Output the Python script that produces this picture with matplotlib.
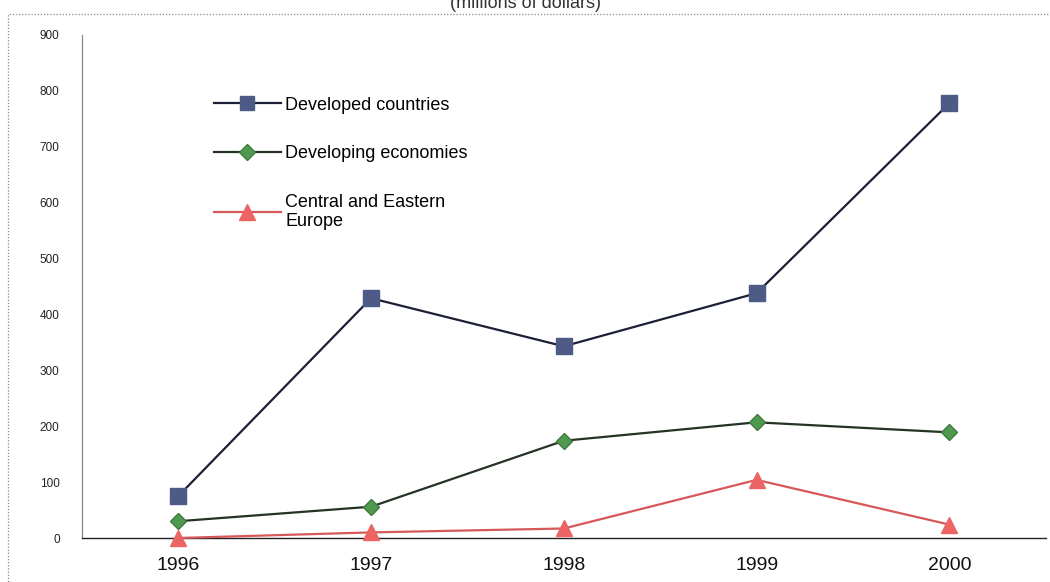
import matplotlib
matplotlib.use("Agg")
import matplotlib.pyplot as plt
from matplotlib.patches import Rectangle

plt.rcParams['font.family'] = ['Liberation Sans', 'DejaVu Sans']

years = ['1996', '1997', '1998', '1999', '2000']
developed = [75, 429, 343, 438, 778]
developing = [30, 56, 174, 207, 189]
cee = [0, 10, 17, 104, 24]

labels = ['Developed countries', 'Developing economies', 'Central and Eastern\nEurope']
title = '(millions of dollars)'

fig = plt.figure(figsize=(10.5, 5.82), dpi=100)
ax = fig.add_axes([0.078, 0.0756, 0.918, 0.8643])

x = list(range(len(years)))
ax.plot(x, developed, color='#1c2036', lw=1.6, marker='s', ms=11,
        mfc='#4d5b86', mec='#4d5b86', label=labels[0], zorder=3, clip_on=False)
ax.plot(x, developing, color='#243324', lw=1.6, marker='D', ms=8.5,
        mfc='#4f9a4f', mec='#3f7a3f', label=labels[1], zorder=3, clip_on=False)
ax.plot(x, cee, color='#d65858', lw=1.6, marker='^', ms=12,
        mfc='#ec6464', mec='#ec6464', label=labels[2], zorder=3, clip_on=False)

ax.set_xlim(-0.5, len(years) - 0.5)
ax.set_ylim(0, 900)
ax.set_yticks(range(0, 901, 100))
ax.set_xticks(x)
ax.set_xticklabels(years, fontsize=14)
ax.tick_params(axis='y', labelsize=8.5, length=0, pad=16, colors='#222222')
ax.tick_params(axis='x', length=0, pad=14, colors='#111111')

for s in ['top', 'right']:
    ax.spines[s].set_visible(False)
ax.spines['left'].set_color('#888888')
ax.spines['left'].set_linewidth(0.9)
ax.spines['bottom'].set_color('#222222')
ax.spines['bottom'].set_linewidth(1.0)

leg = ax.legend(loc='upper left', bbox_to_anchor=(0.12, 0.91), frameon=False,
                fontsize=13, handlelength=3.7, handletextpad=0.27,
                labelspacing=1.75, markerscale=0.95)

# outer dotted frame of the scanned page
fig.patches.append(Rectangle((8 / 1050, -0.01), 1.2, (582 - 14) / 582 + 0.01,
                             transform=fig.transFigure, fill=False,
                             ec='#888888', lw=0.9, ls=(0, (1, 1.5))))

fig.text(0.5, 0.994, title, ha='center', va='center', fontsize=13, color='#333333')

fig.savefig('out.png', dpi=100)
